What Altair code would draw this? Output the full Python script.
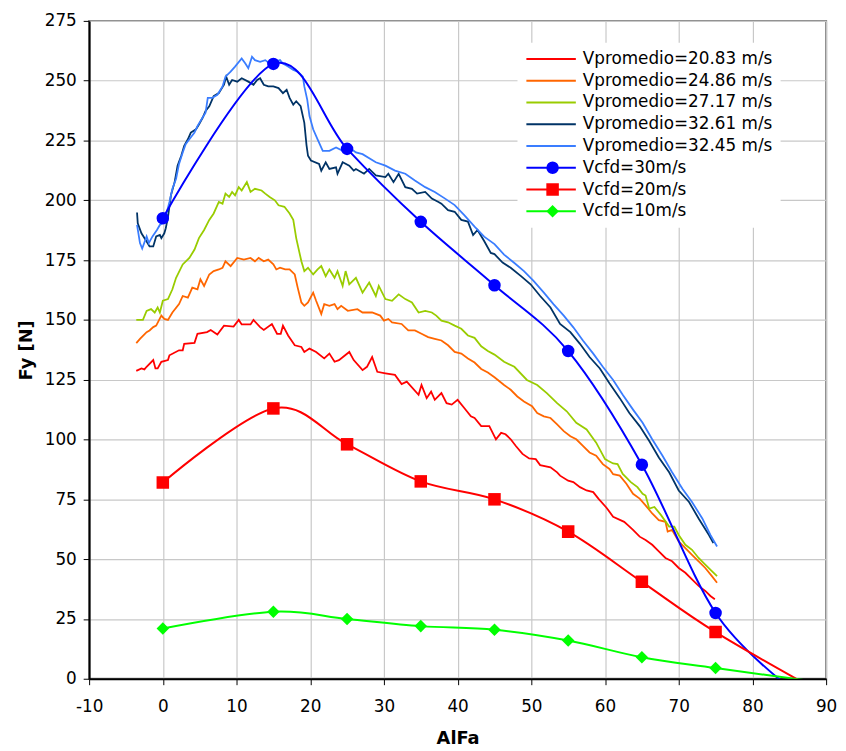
import altair as alt
import pandas as pd

# ---------------- data ----------------
x_ticks = list(range(-10, 91, 10))
y_ticks = list(range(0, 276, 25))

names = ["Vpromedio=20.83 m/s", "Vpromedio=24.86 m/s", "Vpromedio=27.17 m/s",
         "Vpromedio=32.61 m/s", "Vpromedio=32.45 m/s",
         "Vcfd=30m/s", "Vcfd=20m/s", "Vcfd=10m/s"]
colors = ["#ff0000", "#ff6600", "#99cc00", "#003366", "#3a7dff",
          "#0000ff", "#ff0000", "#00ff00"]

v2083_x = [-3.6, -2.9, -2.5, -2.2, -1.3, -1.0, -0.7, -0.2, 0.7, 0.9,
           2.2, 2.7, 2.9, 4.3, 4.7, 6.0, 6.5, 7.4, 8.3, 9.6,
           10.3, 10.7, 11.9, 12.3, 13.2, 13.7, 14.8, 15.5, 16.0, 16.3,
           17.0, 17.9, 18.8, 19.2, 19.9, 20.8, 21.9, 22.6, 23.3, 23.9,
           25.3, 25.9, 27.1, 27.7, 28.4, 29.1, 30.2, 31.5, 32.4, 33.1,
           34.7, 35.1, 35.8, 36.4, 36.9, 37.8, 38.5, 39.2, 40.0, 40.9,
           41.8, 42.3, 43.2, 44.3, 45.2, 45.9, 46.5, 47.2, 47.9, 48.8,
           49.7, 50.6, 51.2, 52.6, 53.5, 53.9, 55.0, 55.7, 56.6, 57.5,
           58.4, 59.1, 60.2, 61.1, 62.6, 63.1, 63.8, 64.7, 65.5, 66.4,
           67.3, 68.2, 69.1, 70.0, 70.9, 71.8, 72.7, 73.6, 74.3, 74.9]
v2083_y = [128.7, 129.7, 129.3, 130.4, 133.2, 129.7, 129.7, 132.5, 133.2, 135.2,
           137.3, 137.3, 140.0, 140.4, 144.2, 144.9, 145.8, 143.9, 147.6, 147.2,
           150.0, 148.1, 148.1, 150.0, 147.0, 145.8, 148.3, 144.2, 144.2, 147.6,
           143.5, 139.4, 138.7, 136.6, 138.0, 136.6, 133.9, 135.9, 132.5, 133.2,
           136.6, 133.2, 129.0, 130.4, 134.5, 128.3, 127.7, 127.0, 123.2, 124.2,
           118.7, 122.8, 117.3, 120.0, 116.6, 119.4, 115.2, 114.6, 116.6, 113.2,
           109.7, 109.0, 105.6, 105.6, 100.1, 102.8, 102.2, 100.1, 97.3, 94.0,
           92.1, 91.8, 89.3, 88.4, 86.3, 84.9, 82.8, 82.2, 80.1, 78.7,
           78.0, 75.3, 71.5, 67.7, 65.6, 64.2, 62.2, 59.4, 58.0, 56.0,
           53.2, 50.5, 49.1, 46.3, 44.3, 41.5, 38.8, 36.7, 34.6, 33.2]

v2486_x = [-3.6, -3.1, -2.2, -1.8, -1.3, -0.9, -0.5, -0.2, 0.2, 0.7,
           1.3, 2.2, 2.7, 3.4, 4.0, 4.7, 5.1, 5.6, 6.3, 6.9,
           7.6, 8.1, 8.5, 9.2, 10.1, 11.0, 11.9, 12.5, 13.0, 13.7,
           14.3, 15.0, 15.4, 15.9, 16.6, 17.2, 17.9, 18.3, 18.8, 19.2,
           19.7, 20.4, 20.8, 21.5, 21.9, 22.6, 23.3, 23.7, 24.2, 25.1,
           26.4, 27.1, 28.4, 29.5, 30.0, 30.6, 31.1, 32.4, 33.3, 34.2,
           35.1, 36.0, 36.9, 37.8, 38.7, 39.6, 40.5, 41.4, 42.3, 43.2,
           44.1, 45.0, 46.3, 47.2, 48.1, 49.0, 50.1, 50.8, 51.7, 52.6,
           53.5, 54.4, 55.3, 56.1, 57.0, 57.9, 58.8, 59.7, 60.6, 61.1,
           62.0, 62.9, 63.8, 64.7, 65.5, 66.4, 67.3, 68.2, 68.5, 69.1,
           70.0, 70.9, 71.8, 72.7, 73.6, 74.5, 75.2]
v2486_y = [140.3, 142.1, 144.9, 145.6, 147.0, 147.6, 150.0, 151.8, 150.4, 150.0,
           153.1, 156.6, 160.0, 159.3, 163.5, 162.8, 167.0, 164.2, 169.0, 170.4,
           171.1, 171.8, 174.5, 172.5, 175.9, 175.2, 175.9, 174.5, 175.9, 174.5,
           175.2, 173.2, 171.1, 171.8, 171.1, 171.1, 169.0, 163.5, 157.3, 155.9,
           157.3, 161.4, 158.0, 152.5, 156.6, 155.9, 156.6, 154.5, 155.9, 153.8,
           154.5, 153.1, 153.1, 151.8, 149.7, 150.4, 149.0, 148.3, 145.6, 145.6,
           144.2, 142.8, 142.1, 141.4, 139.4, 136.6, 135.9, 133.9, 132.2, 129.5,
           128.0, 126.0, 122.8, 120.8, 118.0, 115.9, 113.9, 111.1, 109.7, 109.0,
           106.3, 103.5, 101.4, 100.1, 97.3, 94.6, 93.2, 89.7, 87.7, 85.5,
           84.9, 81.5, 77.3, 75.3, 72.5, 69.1, 66.3, 65.6, 61.5, 62.2,
           57.4, 54.6, 51.8, 49.1, 46.3, 42.9, 40.1]

v2717_x = [-3.6, -2.7, -2.2, -1.6, -1.1, -0.7, -0.4, 0.0, 0.7, 1.3,
           1.8, 2.7, 3.6, 4.3, 4.9, 5.6, 6.3, 6.9, 7.6, 8.1,
           8.5, 9.0, 9.4, 9.8, 10.3, 10.7, 11.4, 11.9, 12.5, 13.4,
           13.9, 14.5, 15.2, 15.7, 16.5, 17.2, 17.7, 18.1, 18.8, 19.2,
           19.7, 20.4, 21.0, 21.5, 22.1, 22.6, 23.3, 23.7, 24.4, 24.8,
           25.3, 26.2, 27.1, 28.0, 28.9, 29.3, 30.2, 31.1, 32.0, 32.9,
           33.8, 34.7, 35.6, 36.5, 37.1, 37.8, 38.7, 39.6, 40.5, 41.4,
           42.3, 43.2, 44.1, 45.0, 46.3, 47.7, 49.4, 50.8, 52.1, 53.5,
           54.8, 56.1, 57.5, 58.8, 60.0, 60.4, 61.1, 61.7, 62.4, 63.5,
           64.4, 65.1, 65.5, 66.0, 66.7, 67.6, 68.7, 69.4, 70.0, 70.9,
           71.8, 72.7, 73.6, 74.5, 75.2]
v2717_y = [150.0, 150.0, 153.8, 154.5, 153.1, 155.2, 153.1, 158.0, 158.7, 162.8,
           167.6, 173.2, 175.9, 179.4, 184.2, 187.6, 191.8, 194.5, 199.3, 198.6,
           202.8, 201.4, 203.5, 202.1, 205.5, 204.1, 207.6, 203.5, 204.8, 204.1,
           202.8, 201.4, 200.0, 197.9, 197.3, 194.5, 191.8, 184.2, 174.5, 170.4,
           171.8, 169.0, 171.1, 172.5, 168.3, 171.1, 167.6, 170.4, 164.2, 170.4,
           164.9, 167.6, 161.4, 165.6, 160.0, 164.2, 158.7, 158.0, 160.7, 158.7,
           157.3, 153.1, 153.8, 153.1, 151.8, 149.7, 149.0, 147.6, 146.3, 143.5,
           142.5, 139.0, 137.0, 135.5, 132.5, 130.4, 124.9, 122.8, 119.4, 115.2,
           111.8, 107.0, 104.2, 98.7, 91.8, 91.1, 90.0, 89.7, 85.6, 82.2,
           80.1, 77.3, 76.6, 71.1, 71.8, 68.4, 63.6, 63.6, 60.1, 56.0,
           53.9, 50.5, 47.7, 45.0, 42.9]

v3261_x = [-3.5, -3.4, -2.9, -2.2, -1.8, -1.3, -0.9, -0.4, -0.2, 0.2,
           0.4, 0.7, 1.1, 1.6, 2.0, 2.5, 2.9, 3.4, 3.8, 4.5,
           4.9, 5.4, 5.8, 6.3, 6.9, 7.6, 8.3, 8.6, 9.0, 9.4,
           10.1, 10.7, 11.6, 12.3, 12.8, 13.2, 13.7, 14.3, 15.0, 15.7,
           16.3, 16.8, 17.2, 17.7, 18.1, 18.7, 19.2, 19.5, 19.7, 20.1,
           21.2, 21.5, 22.1, 22.6, 23.5, 23.7, 24.4, 25.3, 25.9, 26.2,
           27.3, 28.0, 28.9, 30.2, 30.6, 31.3, 32.0, 32.9, 33.8, 34.5,
           35.6, 36.5, 37.4, 37.8, 38.7, 39.6, 40.5, 41.4, 42.1, 42.7,
           43.6, 44.5, 45.0, 46.1, 47.2, 48.6, 49.9, 51.2, 52.6, 53.9,
           55.3, 56.6, 57.9, 59.3, 60.6, 62.0, 63.3, 64.7, 66.0, 67.3,
           68.7, 70.0, 71.4, 72.7, 74.1, 74.7]
v3261_y = [194.9, 190.4, 186.2, 182.8, 180.7, 180.7, 184.9, 185.5, 184.2, 186.2,
           188.3, 193.0, 202.1, 207.6, 214.5, 218.6, 222.8, 225.5, 228.3, 229.7,
           231.7, 234.5, 237.3, 239.3, 243.5, 244.8, 248.3, 251.7, 248.3, 250.3,
           249.6, 251.0, 249.6, 248.3, 250.3, 251.0, 248.3, 247.6, 247.6, 246.9,
           244.8, 246.2, 242.8, 240.0, 241.4, 239.3, 232.4, 223.0, 218.6, 216.6,
           215.2, 212.4, 215.9, 213.1, 213.8, 211.1, 215.9, 214.5, 212.4, 213.1,
           211.1, 213.1, 210.4, 209.7, 211.1, 207.6, 211.1, 205.5, 204.8, 202.8,
           203.5, 200.7, 199.3, 198.6, 195.9, 195.2, 191.8, 191.1, 185.5, 187.6,
           183.0, 178.0, 177.5, 174.0, 171.8, 168.3, 164.9, 160.0, 155.2, 148.3,
           144.9, 140.0, 134.5, 129.7, 123.5, 117.3, 111.1, 105.6, 99.4, 92.5,
           86.3, 78.7, 73.9, 67.0, 60.1, 56.7]

v3245_x = [-3.5, -3.1, -2.8, -2.2, -1.9, -1.4, -0.8, -0.4, 0.2, 0.9,
           1.3, 1.8, 2.2, 2.7, 3.1, 3.6, 4.3, 4.7, 5.1, 5.8,
           6.1, 6.7, 7.4, 8.1, 8.5, 9.2, 9.8, 10.7, 11.2, 11.6,
           12.1, 12.5, 13.2, 13.9, 14.5, 15.2, 15.9, 16.3, 17.0, 17.7,
           18.3, 19.0, 19.2, 19.6, 19.9, 20.4, 21.0, 21.7, 22.6, 23.5,
           24.4, 25.3, 26.2, 27.1, 28.9, 30.2, 31.5, 32.9, 34.2, 35.6,
           36.9, 38.3, 39.6, 40.9, 42.3, 43.6, 45.0, 46.3, 47.7, 49.0,
           50.3, 51.7, 53.0, 54.4, 55.7, 57.0, 58.4, 59.7, 61.1, 62.4,
           63.8, 65.1, 66.4, 67.8, 69.1, 70.5, 71.8, 73.2, 74.3, 75.2]
v3245_y = [189.7, 182.1, 179.8, 184.9, 182.1, 184.9, 187.6, 189.7, 191.0, 199.3,
           204.8, 209.0, 215.2, 220.0, 223.5, 225.5, 228.3, 231.0, 233.1, 236.6,
           242.8, 242.8, 244.1, 247.6, 251.7, 253.8, 255.9, 259.3, 257.2, 255.2,
           260.0, 258.6, 257.9, 258.6, 257.2, 257.9, 258.6, 257.2, 255.9, 254.5,
           253.8, 251.7, 247.6, 242.0, 235.2, 229.7, 225.5, 220.7, 220.7, 222.1,
           220.7, 222.1, 220.0, 219.3, 215.9, 214.5, 212.4, 211.1, 208.3, 205.5,
           203.5, 200.7, 198.0, 193.8, 189.0, 184.8, 181.7, 177.3, 173.8, 170.4,
           166.3, 161.4, 156.6, 151.8, 146.9, 141.4, 135.9, 130.4, 124.9, 118.7,
           112.5, 107.0, 100.1, 93.2, 86.3, 79.4, 73.9, 67.0, 60.1, 55.3]

# CFD results (last point of each runs past the plot edge and is clipped)
cfd30_x = [0, 15, 25, 35, 45, 55, 65, 75, 85]
cfd30_y = [192.5, 257.0, 221.5, 191.0, 164.5, 137.0, 89.5, 27.5, -3.5]
cfd20_x = [0, 15, 25, 35, 45, 55, 65, 75, 90]
cfd20_y = [82.0, 113.0, 98.0, 82.5, 75.0, 61.5, 40.5, 19.5, -7.0]
cfd10_x = [0, 15, 25, 35, 45, 55, 65, 75, 90]
cfd10_y = [21.0, 28.0, 25.0, 22.0, 20.5, 16.0, 9.0, 4.5, -1.8]

# ---------------- tables ----------------
def long(pairs):
    rows = []
    for name, xs, ys in pairs:
        assert len(xs) == len(ys), name
        rows += [{"x": a, "y": b, "series": name} for a, b in zip(xs, ys)]
    return pd.DataFrame(rows)

exp_df = long([(names[0], v2083_x, v2083_y), (names[1], v2486_x, v2486_y),
               (names[2], v2717_x, v2717_y), (names[3], v3261_x, v3261_y),
               (names[4], v3245_x, v3245_y)])
cfd_df = long([(names[5], cfd30_x, cfd30_y), (names[6], cfd20_x, cfd20_y),
               (names[7], cfd10_x, cfd10_y)])
cfd_df["mk"] = cfd_df["series"] + " "
mk_domain = [n + " " for n in names]

FONT = "DejaVu Sans"
LX, LY = 433, 22

stroke_scale = alt.Scale(domain=names, range=colors)
legend_lines = alt.Legend(orient="none", legendX=LX, legendY=LY, title=None,
                          fillColor="white", padding=8, symbolType="stroke",
                          symbolSize=2500, symbolStrokeWidth=2, clipHeight=17,
                          labelFont=FONT, labelFontSize=17, labelColor="black",
                          labelLimit=0, labelOffset=6, rowPadding=4, zindex=1)
legend_marks = alt.Legend(orient="none", legendX=LX, legendY=LY, title=None,
                          padding=8, symbolSize=160, symbolStrokeWidth=0,
                          clipHeight=17, symbolOffset=19, labelFont=FONT,
                          labelFontSize=17, labelLimit=0, labelOpacity=0,
                          labelOffset=6, rowPadding=4, zindex=2)

xenc = alt.X("x:Q", scale=alt.Scale(domain=[-10, 90], nice=False, zero=False),
             axis=alt.Axis(values=x_ticks, title="AlFa", labelFlush=False,
                           labelOverlap=False, labelExpr="'' + datum.value",
                           labelPadding=14, titleY=60, titleBaseline="middle"))
yenc = alt.Y("y:Q", scale=alt.Scale(domain=[0, 275], nice=False, zero=False),
             axis=alt.Axis(values=y_ticks, title="Fy [N]", labelOverlap=False,
                           labelPadding=7, titleX=-63, titleBaseline="middle",
                           titleAlign="center"))

exp_lines = alt.Chart(exp_df).mark_line(strokeWidth=1.8, clip=True).encode(
    x=xenc, y=yenc,
    stroke=alt.Stroke("series:N", scale=stroke_scale, legend=legend_lines),
)
cfd_lines = alt.Chart(cfd_df).mark_line(strokeWidth=2, clip=True,
                                        interpolate="cardinal", tension=0).encode(
    x=xenc, y=yenc,
    stroke=alt.Stroke("series:N", scale=stroke_scale, legend=legend_lines),
)
cfd_points = alt.Chart(cfd_df).transform_filter("datum.x <= 75").mark_point(
    filled=True, size=160, opacity=1, clip=True).encode(
    x=xenc, y=yenc,
    fill=alt.Fill("mk:N", scale=alt.Scale(domain=mk_domain,
                                          range=["transparent"] * 5 + colors[5:]),
                  legend=legend_marks),
    shape=alt.Shape("mk:N", scale=alt.Scale(domain=mk_domain,
                                            range=["circle"] * 6 + ["square", "diamond"]),
                    legend=legend_marks),
)

chart = alt.layer(exp_lines, cfd_lines, cfd_points).properties(
    width=745, height=665,
    autosize=alt.AutoSizeParams(type="none"),
    padding={"left": 82, "top": 9, "right": 12, "bottom": 68},
    background="white",
).configure_view(
    stroke="#808080", strokeWidth=2,
).configure_axis(
    labelFont=FONT, labelFontSize=17, labelColor="black",
    titleFont=FONT, titleFontSize=18, titleFontWeight="bold", titleColor="black",
    gridColor="#c8c8c8", gridWidth=1.2,
    domainColor="black", domainWidth=2,
    tickColor="black", tickSize=6, tickWidth=1,
)

chart.save("out.html", embed_options={"renderer": "svg", "actions": False})
